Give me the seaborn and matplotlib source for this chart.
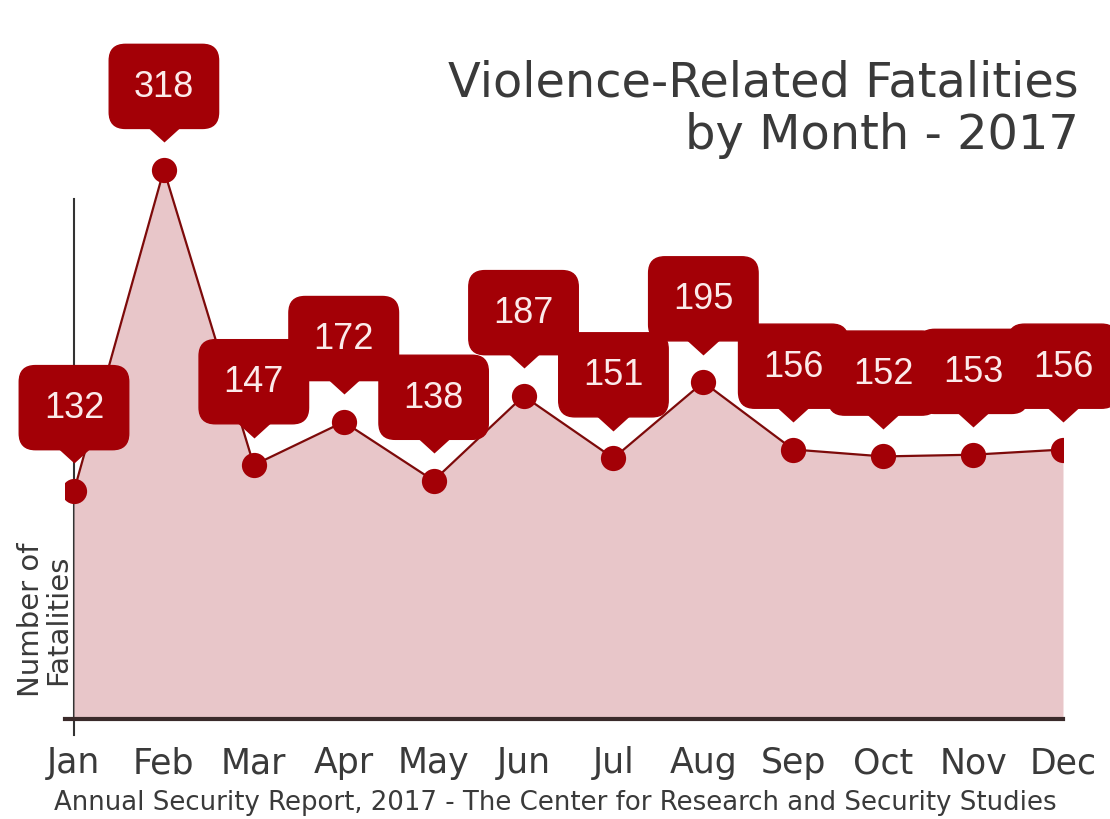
import matplotlib
matplotlib.use("Agg")
import matplotlib.pyplot as plt
import matplotlib.transforms as mtransforms
import seaborn as sns
import pandas as pd

months = ["Jan", "Feb", "Mar", "Apr", "May", "Jun", "Jul", "Aug", "Sep", "Oct", "Nov", "Dec"]
fatalities = [132, 318, 147, 172, 138, 187, 151, 195, 156, 152, 153, 156]
title_text = "Violence-Related Fatalities\nby Month - 2017"
ylabel_text = "Number of\nFatalities"
source_text = "Annual Security Report, 2017 - The Center for Research and Security Studies"

df = pd.DataFrame({"idx": range(len(months)), "month": months, "value": fatalities})

sns.set_style("white")
plt.rcParams["font.family"] = ["DejaVu Sans"]

DARK = "#a30006"
LINE = "#7d0a0a"
FILL = "#e8c6c9"
TEXT = "#3a3a3a"

fig = plt.figure(figsize=(11.1, 8.2), dpi=100)
ax = fig.add_axes([65 / 1110, 84.5 / 820, 998 / 1110, 585.5 / 820])

ax.fill_between(df["idx"], 0, df["value"], color=FILL, linewidth=0, zorder=1)
sns.lineplot(data=df, x="idx", y="value", ax=ax, color=LINE, linewidth=1.6, zorder=2)
sns.scatterplot(data=df, x="idx", y="value", ax=ax, color=DARK, s=330, edgecolor=DARK,
                linewidth=0, zorder=3)

ax.set_xlim(-0.1, 11.0)
ax.set_ylim(-9, 330)

# bubbles: wide pointer triangle + rounded box with value
pointer = [(-1.1, 0.5), (1.1, 0.5), (0.0, -0.5)]
tri_tr = mtransforms.offset_copy(ax.transData, fig=fig, x=0, y=27, units="points")
ax.scatter(df["idx"], df["value"], marker=pointer, s=1000, color=DARK, linewidths=0,
           transform=tri_tr, zorder=4, clip_on=False)
for i, v in zip(df["idx"], df["value"]):
    ax.annotate(str(v), xy=(i, v), xytext=(0, 60), textcoords="offset points",
                ha="center", va="center", fontsize=26, color="#fbeaea",
                family=["Liberation Sans", "DejaVu Sans"],
                bbox=dict(boxstyle="round,pad=0.68,rounding_size=0.45", fc=DARK, ec=DARK),
                zorder=5, annotation_clip=False)

for s in ["top", "right"]:
    ax.spines[s].set_visible(False)
ax.spines["left"].set_position(("data", 0))
ax.spines["left"].set_bounds(-9, 301)
ax.spines["left"].set_color("#333333")
ax.spines["left"].set_linewidth(1.5)
ax.spines["bottom"].set_position(("data", 0))
ax.spines["bottom"].set_bounds(-0.1, 11)
ax.spines["bottom"].set_color("#3a2a2a")
ax.spines["bottom"].set_linewidth(3)
ax.spines["left"].set_zorder(0.5)

ax.set_xticks(df["idx"])
ax.set_xticklabels(months, fontsize=25, color=TEXT)
ax.tick_params(axis="x", length=0, pad=19)
ax.set_yticks([])
ax.set_xlabel("")
ax.set_ylabel("")

fig.text(0.972, 0.927, title_text, ha="right", va="top", fontsize=34.5, color=TEXT,
         linespacing=1.15)
fig.text(0.040, 0.244, ylabel_text, rotation=90, ha="center", va="center", fontsize=21,
         color=TEXT, linespacing=0.95)
fig.text(0.5, 0.021, source_text, ha="center", va="center", fontsize=18.7, color=TEXT)

fig.savefig("out.png", dpi=100)
